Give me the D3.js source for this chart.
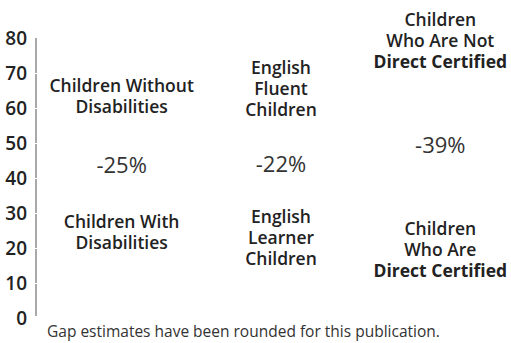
<!DOCTYPE html>
<html><head><meta charset="utf-8">
<script src="https://cdn.jsdelivr.net/npm/d3@7"></script>
<style>
html,body{margin:0;padding:0;background:#fff;}
svg{display:block;}
</style></head>
<body>
<svg id="chart" width="511" height="343"></svg>
<script>
// Data
const categories = ["Disability", "English", "DirectCert"];
const upperLabels = [["Children Without", "Disabilities"], ["English", "Fluent", "Children"], ["Children", "Who Are Not", "**Direct Certified"]];
const lowerLabels = [["Children With", "Disabilities"], ["English", "Learner", "Children"], ["Children", "Who Are", "**Direct Certified"]];
const upperValues = [63.3, 65.5, 79.1];
const lowerValues = [24.6, 22.8, 19.6];
const gapLabels = ["-25%", "-22%", "-39%"];
const gapValues = [43.6, 43.8, 49.3];
const yTicks = [0, 10, 20, 30, 40, 50, 60, 70, 80];
const footnote = "Gap estimates have been rounded for this publication.";

const font = "'Open Sans', sans-serif";
const svg = d3.select("#chart");
const y = d3.scaleLinear().domain([0, 80]).range([318, 38]);
const x = d3.scaleBand().domain(categories).range([42, 520]);

// axis
const axis = svg.append("g").attr("transform", "translate(36,0)")
  .call(d3.axisLeft(y).tickValues(yTicks).tickSize(0).tickPadding(9));
axis.select(".domain").attr("stroke", "#a9a9a9").attr("stroke-width", 2).attr("d", `M0,${y(80)}V${y(0)-2}`);
axis.selectAll(".tick text").attr("font-family", font).attr("font-size", 19).attr("font-weight", 600).attr("fill", "#222");
axis.selectAll(".tick").append("line").attr("x1", -1.5).attr("x2", 1.5).attr("stroke", "#fff").attr("stroke-width", 1)
  .filter(d => d === 0 || d === 80).remove();

function drawLabel(lines, cx, cy) {
  const lh = 21;
  const n = lines.length;
  lines.forEach((ln, i) => {
    const bold = ln.startsWith("**");
    svg.append("text").attr("text-anchor", "middle").attr("font-family", font)
      .attr("font-size", 17.5).attr("fill", "#222")
      .attr("x", cx).attr("y", cy + (i - (n - 1) / 2) * lh)
      .attr("dy", "0.35em").attr("font-weight", bold ? 700 : 600)
      .text(bold ? ln.slice(2) : ln);
  });
}

categories.forEach((c, i) => {
  const cx = x(c) + x.bandwidth() / 2;
  drawLabel(upperLabels[i], cx, y(upperValues[i]));
  drawLabel(lowerLabels[i], cx, y(lowerValues[i]));
  svg.append("text").attr("x", cx).attr("y", y(gapValues[i])).attr("dy", "0.35em")
    .attr("text-anchor", "middle").attr("font-family", font).attr("font-size", 22)
    .attr("font-weight", 400).attr("fill", "#333").text(gapLabels[i]);
});

svg.append("text").attr("x", 47).attr("y", 337).attr("font-family", font)
  .attr("font-size", 15.5).attr("fill", "#333").text(footnote);
</script>
</body></html>
